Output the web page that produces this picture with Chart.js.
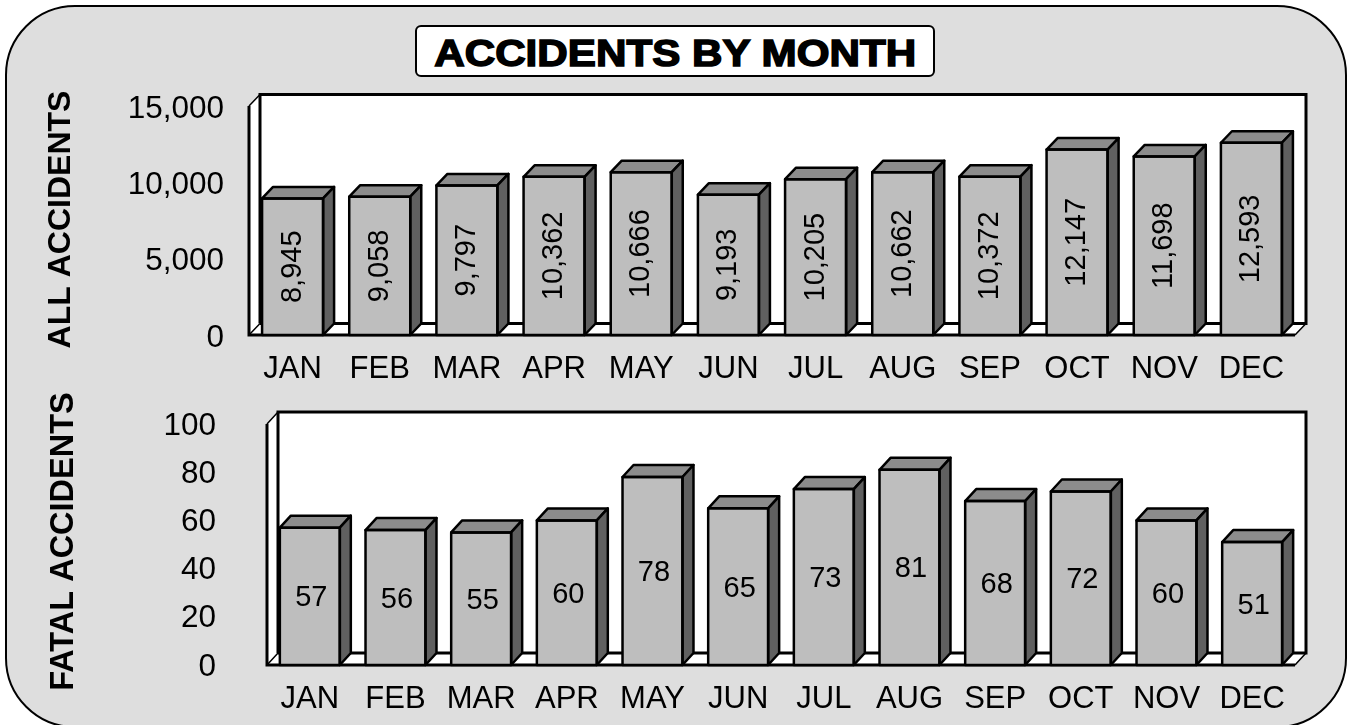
<!DOCTYPE html>
<html>
<head>
<meta charset="utf-8">
<title>Accidents by month</title>
<script src="https://cdn.jsdelivr.net/npm/chart.js@4/dist/chart.umd.min.js"></script>
<style>
html,body{margin:0;padding:0;width:1348px;height:725px;overflow:hidden;background:#fff;}
#panel{position:absolute;left:5px;top:5px;width:1338px;height:719px;box-sizing:content-box;background:#dedede;border:2px solid #000;border-radius:70px;}
#title{position:absolute;left:415px;top:25px;width:520px;height:52px;box-sizing:border-box;background:#fff;border:2.5px solid #000;border-radius:6px;
 text-align:center;white-space:nowrap;}
#title span{display:inline-block;position:relative;top:3.5px;font:bold 37.5px/44px "Liberation Sans",Arial,sans-serif;-webkit-text-stroke:1.5px #000;color:#000;transform:scaleX(1.125);transform-origin:center;}
canvas{position:absolute;left:0;}
#c1{top:0;} #c2{top:380px;}
</style>
</head>
<body>
<div id="panel"></div>
<div id="title"><span>ACCIDENTS BY MONTH</span></div>
<canvas id="c1" width="1348" height="380" style="width:1348px;height:380px"></canvas>
<canvas id="c2" width="1348" height="345" style="width:1348px;height:345px"></canvas>
<script>
const months = ["JAN","FEB","MAR","APR","MAY","JUN","JUL","AUG","SEP","OCT","NOV","DEC"];
const allAccidents = [8945,9058,9797,10362,10666,9193,10205,10662,10372,12147,11698,12593];
const fatalAccidents = [57,56,55,60,78,65,73,81,68,72,60,51];
const allTicksMax = 15000, allTicksStep = 5000;
const fatalTicksMax = 100, fatalTicksStep = 20;

const FONT = '"Liberation Sans", Arial, sans-serif';
const FRONT = '#bebebe', TOP = '#8c8c8c', SIDE = '#606060', INK = '#000';

function poly(ctx, pts, fill, lw){
  ctx.beginPath();
  pts.forEach((p,i)=> i?ctx.lineTo(p[0],p[1]):ctx.moveTo(p[0],p[1]));
  ctx.closePath();
  if(fill){ctx.fillStyle=fill;ctx.fill();}
  if(lw){ctx.lineWidth=lw;ctx.strokeStyle=INK;ctx.stroke();}
}

const box3d = {
  id:'box3d',
  beforeDatasetsDraw(chart, args, o){
    const {left:l,right:r,top:t,bottom:b} = chart.chartArea, c=chart.ctx, dx=o.dx, dy=o.dy;
    c.save(); c.lineJoin='miter';
    poly(c,[[l+dx,t-dy],[r+dx,t-dy],[r+dx,b-dy],[l+dx,b-dy]],'#fff',0);
    poly(c,[[l,t],[l+dx,t-dy],[l+dx,b-dy],[l,b]],'#fff',0);
    poly(c,[[l,b],[l+dx,b-dy],[r+dx,b-dy],[r,b]],'#fff',0);
    c.strokeStyle=INK;
    c.lineWidth=3;
    c.beginPath();
    c.moveTo(l+dx,b-dy);c.lineTo(l+dx,t-dy);c.lineTo(r+dx,t-dy);c.lineTo(r+dx,b-dy);c.lineTo(l+dx,b-dy);
    c.moveTo(l,t);c.lineTo(l,b);c.lineTo(r,b);
    c.stroke();
    c.lineWidth=1.5;
    c.beginPath();
    c.moveTo(l,t);c.lineTo(l+dx,t-dy);
    c.moveTo(l,b);c.lineTo(l+dx,b-dy);
    c.moveTo(r,b);c.lineTo(r+dx,b-dy);
    c.stroke();
    c.restore();
  },
  afterDatasetsDraw(chart, args, o){
    const c=chart.ctx, dx=o.dx, dy=o.dy, values=chart.data.datasets[0].data;
    c.save(); c.lineJoin='round';
    chart.getDatasetMeta(0).data.forEach((bar,i)=>{
      const xl=bar.x-bar.width/2, xr=bar.x+bar.width/2, yt=bar.y, yb=bar.base;
      poly(c,[[xl,yt],[xl+dx,yt-dy],[xr+dx,yt-dy],[xr,yt]],TOP,2.5);
      poly(c,[[xr,yt],[xr+dx,yt-dy],[xr+dx,yb-dy],[xr,yb]],SIDE,2.5);
      poly(c,[[xl,yt],[xr,yt],[xr,yb],[xl,yb]],null,2.5);
      c.fillStyle=INK; c.textAlign='center'; c.textBaseline='middle';
      c.font=o.labelFont;
      const txt=values[i].toLocaleString('en-US');
      c.save();
      c.translate(bar.x+o.labelShift,(yt+yb)/2+o.labelNudge);
      if(o.rotate) c.rotate(-Math.PI/2);
      c.fillText(txt,0,0);
      c.restore();
    });
    c.restore();
  }
};

function makeChart(id, data, cfg){
  return new Chart(document.getElementById(id),{
    type:'bar',
    data:{labels:months,datasets:[{data:data,backgroundColor:FRONT,borderWidth:0,barPercentage:1,categoryPercentage:0.7}]},
    plugins:[box3d],
    options:{
      responsive:false,animation:false,
      layout:{padding:{left:0,right:1348-cfg.right,top:cfg.top,bottom:0}},
      plugins:{legend:{display:false},tooltip:{enabled:false},
        box3d:{dx:cfg.dx,dy:cfg.dy,rotate:cfg.rotate,labelFont:cfg.labelFont,labelNudge:cfg.labelNudge,labelShift:cfg.labelShift}},
      scales:{
        x:{
          grid:{display:false,drawTicks:false},border:{display:false},
          ticks:{color:INK,font:{family:FONT,size:cfg.xFont},padding:cfg.xPad,maxRotation:0,minRotation:0,autoSkip:false},
          afterFit(s){s.height=cfg.height-cfg.bottom;}
        },
        y:{
          min:0,max:cfg.max,
          grid:{display:false,drawTicks:false},border:{display:false},
          ticks:{stepSize:cfg.step,color:INK,font:{family:FONT,size:cfg.yFont},padding:cfg.yPad,labelOffset:cfg.yOffset,callback:v=>v.toLocaleString('en-US')},
          title:{display:true,text:cfg.title,color:INK,font:{family:FONT,size:cfg.titleFont,weight:'bold'},padding:{top:cfg.titlePad,bottom:0}},
          afterFit(s){
            s.width=cfg.left;s.paddingTop=0;s.paddingBottom=0;
            if(!s._nudged){
              s._nudged=true;
              const draw=s.drawTitle;
              s.drawTitle=function(){s.ctx.save();s.ctx.translate(0,cfg.titleNudge);draw.call(s);s.ctx.restore();};
            }
          }
        }
      }
    }
  });
}

makeChart('c1',allAccidents,{height:380,left:249,right:1295,top:106,bottom:335,dx:11,dy:11.5,max:allTicksMax,step:allTicksStep,
  rotate:true,labelFont:'29px '+FONT,labelNudge:0,labelShift:0,xFont:31,yFont:31.5,xPad:16,yPad:25,yOffset:3,title:'ALL ACCIDENTS',titleFont:32,titlePad:42,titleNudge:-1});
makeChart('c2',fatalAccidents,{height:345,left:267,right:1295,top:44,bottom:285,dx:11,dy:12,max:fatalTicksMax,step:fatalTicksStep,
  rotate:false,labelFont:'29px '+FONT,labelNudge:2,labelShift:1.5,xFont:31,yFont:31.5,xPad:16,yPad:51,yOffset:2,title:'FATAL ACCIDENTS',titleFont:32.5,titlePad:45,titleNudge:-3});
</script>
</body>
</html>
